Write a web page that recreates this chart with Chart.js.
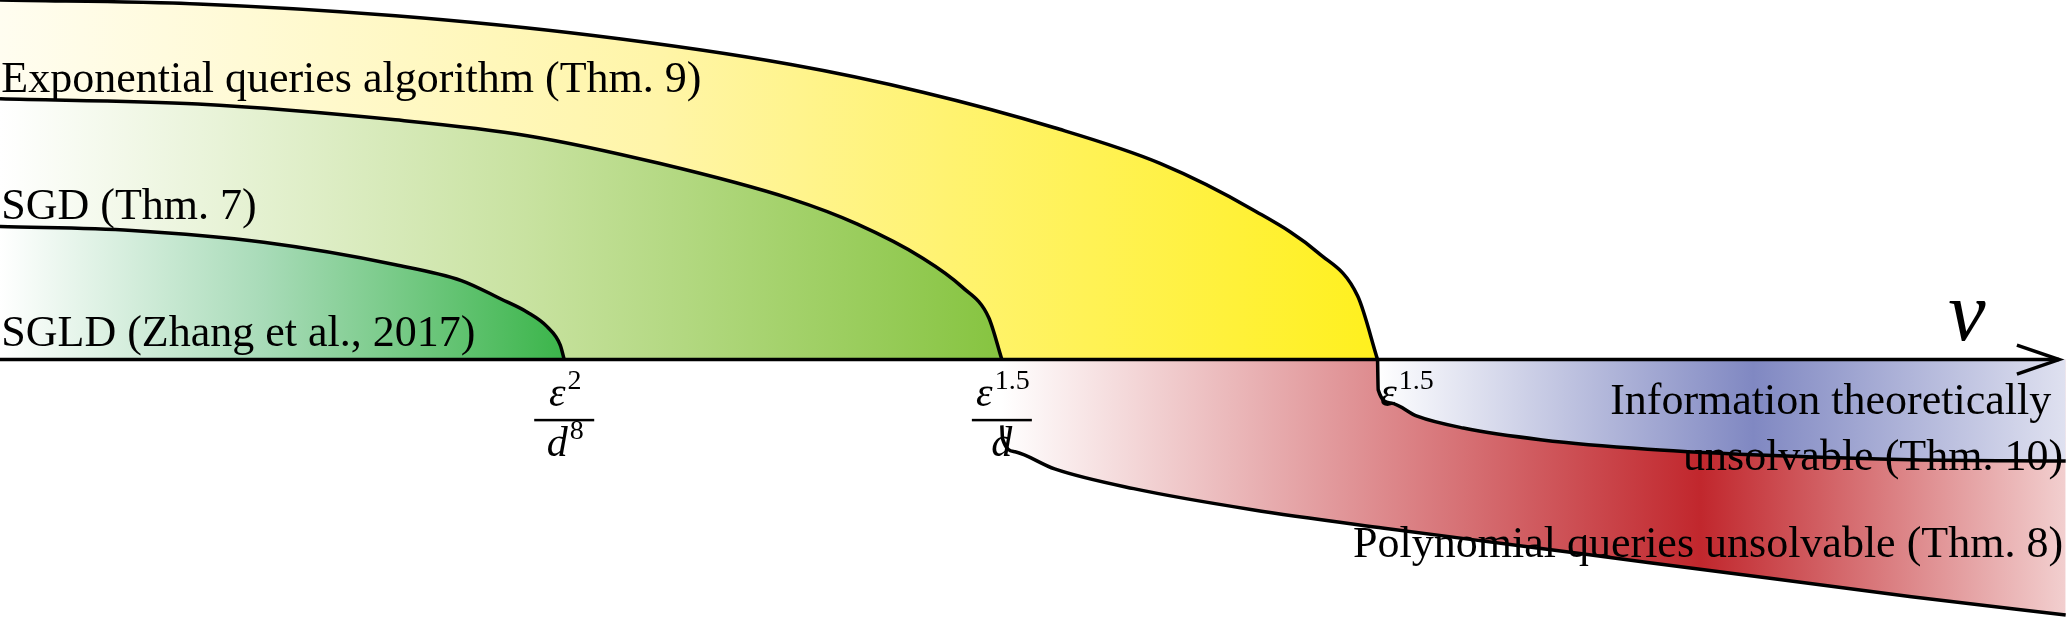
<!DOCTYPE html>
<html><head><meta charset="utf-8">
<script src="https://cdn.jsdelivr.net/npm/chart.js@4.4.1/dist/chart.umd.min.js"></script>
<style>html,body{margin:0;padding:0;background:#fff}#w{width:2067px;height:623px}</style>
</head><body><div id="w"><canvas id="c" width="2067" height="623"></canvas></div>
<script>
// Curves (data units, y downward)
const expX = [0,150,300,450,600,700,800,880,950,1000,1030,1045];
const expY = [0,3,12,27,49,70,97,124,159,192,225,273];
const sgdX = [0,150,300,400,500,600,650,700,730,750,760];
const sgdY = [75,79,91,103,124,151,170,196,218,241,273];
const sgldX = [0,100,200,300,350,380,400,415,425,428];
const sgldY = [172,175,184,201,213,227,237,248,262,273];
const infoX = [1045,1045.5,1055,1075,1110,1170,1250,1350,1450,1567];
const infoY = [273,296,306,316,325,334,341,346,349,350];
const polyX = [760,760.5,770,800,860,950,1050,1150,1250,1350,1450,1567];
const polyY = [323,333,343,356,371,387,401,414,427,440,453,467];
const axisX = [0,1562]; const axisY = [273,273];
const arrowX = [1530,1562,1530]; const arrowY = [262,273,284];
const labels = ["Exponential queries algorithm (Thm. 9)","SGD (Thm. 7)","SGLD (Zhang et al., 2017)",
 "Information theoretically","unsolvable (Thm. 10)","Polynomial queries unsolvable (Thm. 8)"];
const tickPos = [428,760,1045];

const pts=(xs,ys)=>xs.map((x,i)=>({x,y:ys[i]}));
function grad(stops){
  return (ctx)=>{
    const ch=ctx.chart, a=ch.chartArea; if(!a) return null;
    const xs=ch.scales.x;
    const x0=xs.getPixelForValue(stops[0][0]), x1=xs.getPixelForValue(stops[stops.length-1][0]);
    const g=ch.ctx.createLinearGradient(x0,0,x1,0);
    stops.forEach(s=>g.addColorStop((s[0]-stops[0][0])/(stops[stops.length-1][0]-stops[0][0]),s[1]));
    return g;
  };
}
const base={pointRadius:0,borderColor:'#000',borderWidth:3.5,cubicInterpolationMode:'monotone'};
const F='"Liberation Serif"';
const txt={id:'txt',afterDatasetsDraw(ch){
  const c=ch.ctx,X=v=>ch.scales.x.getPixelForValue(v),Y=v=>ch.scales.y.getPixelForValue(v);
  c.save();c.fillStyle='#000';c.textBaseline='alphabetic';
  c.font='44px '+F;c.textAlign='left';
  c.fillText(labels[0],X(1),Y(70));c.fillText(labels[1],X(1),Y(166));c.fillText(labels[2],X(1),Y(263));
  c.textAlign='right';
  c.fillText(labels[3],X(1556),Y(314));c.fillText(labels[4],X(1565),Y(357));c.fillText(labels[5],X(1565),Y(423));
  c.font='italic 84px '+F;c.textAlign='center';c.fillText('ν',X(1492),Y(258));
  const M='italic 42px '+F, S='28px '+F;
  const frac=(x,num,sup,den,dsup)=>{
    c.font=M;const w1=c.measureText(num).width;c.font=S;const ws=c.measureText(sup).width;
    const nx=X(x)-(w1+ws)/2;
    c.textAlign='left';c.font=M;c.fillText(num,nx,Y(308));
    c.font=S;c.fillText(sup,nx+w1+2,Y(295));
    c.fillRect(X(x)-30,Y(318),60,2.5);
    c.font=M;const w2=c.measureText(den).width;c.font=S;const wd=c.measureText(dsup).width;
    const dx=X(x)-(w2+wd)/2;c.font=M;c.fillText(den,dx,Y(346));
    c.font=S;c.fillText(dsup,dx+w2+2,Y(333));
  };
  frac(tickPos[0],'ε','2','d','8');frac(tickPos[1],'ε','1.5','d','');
  c.textAlign='left';c.font=M;c.fillText('ε',X(1047),Y(308));
  c.font=S;c.fillText('1.5',X(1061),Y(295));
  c.restore();
}};
new Chart(document.getElementById('c'),{type:'scatter',
 data:{datasets:[
  {...base,data:pts(expX,expY),showLine:true,fill:{value:273},order:10,
   backgroundColor:grad([[0,'#fffdf0'],[500,'#fff5a8'],[1045,'#fff01e']])},
  {...base,data:pts(sgdX,sgdY),showLine:true,fill:{value:273},order:9,
   backgroundColor:grad([[0,'#ffffff'],[400,'#c8e2a0'],[760,'#86c440']])},
  {...base,data:pts(sgldX,sgldY),showLine:true,fill:{value:273},order:8,
   backgroundColor:grad([[0,'#ffffff'],[200,'#a8dbb8'],[428,'#3bb54a']])},
  {...base,data:pts(polyX,polyY),showLine:true,fill:{value:273},order:7,
   backgroundColor:grad([[760,'#ffffff'],[1290,'#c1272d'],[1567,'#f2cfcf']])},
  {...base,data:pts(infoX,infoY),showLine:true,fill:{value:273},order:6,
   backgroundColor:grad([[1045,'#ffffff'],[1330,'#8088c2'],[1567,'#dfe1f0']])},
  {...base,data:pts(axisX,axisY),showLine:true,fill:false,cubicInterpolationMode:'default',tension:0,order:1},
  {...base,data:pts(arrowX,arrowY),showLine:true,fill:false,cubicInterpolationMode:'default',tension:0,order:1}
 ]},
 options:{responsive:false,devicePixelRatio:1,animation:false,layout:{padding:0},
  plugins:{legend:{display:false},tooltip:{enabled:false}},
  scales:{x:{type:'linear',min:0,max:1568,display:false},y:{type:'linear',min:0,max:473,reverse:true,display:false}}},
 plugins:[txt]});
</script></body></html>
